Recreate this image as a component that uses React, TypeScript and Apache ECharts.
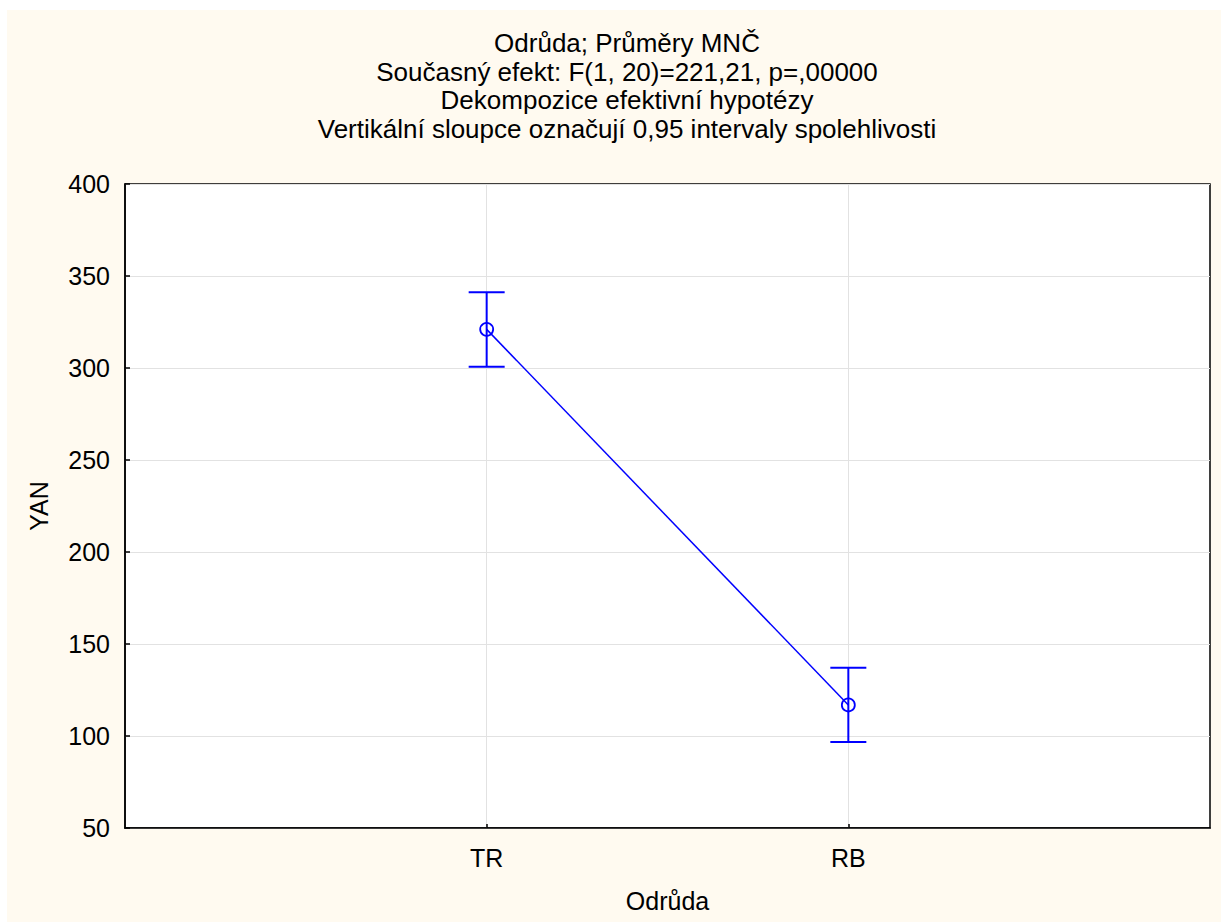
import React, { useEffect, useRef } from "react";
import * as echarts from "echarts";

const categories = ["TR", "RB"];
const means = [321.0, 116.9];
const lowerCI = [300.7, 96.8];
const upperCI = [341.2, 137.1];
const titleLines = [
  "Odrůda; Průměry MNČ",
  "Současný efekt: F(1, 20)=221,21, p=,00000",
  "Dekompozice efektivní hypotézy",
  "Vertikální sloupce označují 0,95 intervaly spolehlivosti",
];

const FONT = "'Liberation Sans', Arial, sans-serif";
const BLUE = "#0000ff";
const FS = 25;

export default function App() {
  const ref = useRef<HTMLDivElement>(null);
  useEffect(() => {
    if (!ref.current) return;
    const chart = echarts.init(ref.current, undefined, { renderer: "svg" });
    const meanData = means.map((m, i) => [i + 1, m]);
    const ciData = means.map((_, i) => [i + 1, lowerCI[i], upperCI[i]]);
    chart.setOption({
      animation: false,
      backgroundColor: "#fffaf0",
      textStyle: { fontFamily: FONT },
      graphic: [
        {
          type: "text",
          x: 620,
          y: 19,
          style: {
            text: titleLines.join("\n"),
            fontSize: 26,
            lineHeight: 28.5,
            fontFamily: FONT,
            fill: "#000",
            align: "center",
            verticalAlign: "top",
          },
        },
      ],
      grid: {
        left: 118,
        top: 174,
        right: 11,
        bottom: 94,
        show: true,
        backgroundColor: "#ffffff",
        borderColor: "#000000",
        borderWidth: 1.5,
      },
      xAxis: {
        type: "value",
        min: 0,
        max: categories.length + 1,
        interval: 1,
        name: "Odrůda",
        nameLocation: "middle",
        nameGap: 60,
        nameTextStyle: { fontSize: FS, color: "#000", fontFamily: FONT },
        axisLine: { lineStyle: { color: "#000", width: 1.5 } },
        axisTick: {
          inside: true,
          length: 4,
          lineStyle: { color: "#000", width: 1.5 },
          customValues: categories.map((_, i) => i + 1),
        },
        axisLabel: {
          fontSize: FS,
          color: "#000",
          margin: 17,
          fontFamily: FONT,
          customValues: categories.map((_, i) => i + 1),
          formatter: (v: number) => categories[v - 1] ?? "",
        },
        splitLine: { show: true, lineStyle: { color: "#e2e2e2", width: 1 } },
      },
      yAxis: {
        type: "value",
        min: 50,
        max: 400,
        interval: 50,
        name: "YAN",
        nameLocation: "middle",
        nameGap: 74,
        nameRotate: 90,
        nameTextStyle: { fontSize: FS, color: "#000", fontFamily: FONT },
        axisLine: { show: true, lineStyle: { color: "#000", width: 1.5 } },
        axisTick: { show: true, inside: true, length: 5, lineStyle: { color: "#000", width: 1.5 } },
        axisLabel: { fontSize: FS, color: "#000", margin: 15, fontFamily: FONT },
        splitLine: { show: true, lineStyle: { color: "#e2e2e2", width: 1 } },
      },
      series: [
        {
          type: "custom",
          data: ciData,
          z: 3,
          renderItem: (params: any, api: any) => {
            const x = api.value(0);
            const lo = api.coord([x, api.value(1)]);
            const hi = api.coord([x, api.value(2)]);
            const hw = 18;
            const style = { stroke: BLUE, lineWidth: 2 };
            return {
              type: "group",
              children: [
                { type: "line", shape: { x1: lo[0], y1: lo[1], x2: hi[0], y2: hi[1] }, style },
                { type: "line", shape: { x1: lo[0] - hw, y1: lo[1], x2: lo[0] + hw, y2: lo[1] }, style },
                { type: "line", shape: { x1: hi[0] - hw, y1: hi[1], x2: hi[0] + hw, y2: hi[1] }, style },
              ],
            };
          },
        },
        {
          type: "line",
          data: meanData,
          z: 4,
          symbol: "circle",
          symbolSize: 13,
          lineStyle: { color: BLUE, width: 1.5 },
          itemStyle: { color: "transparent", borderColor: BLUE, borderWidth: 1.8 },
        },
      ],
    });
    return () => chart.dispose();
  }, []);
  return (
    <div
      ref={ref}
      style={{ position: "fixed", left: 7, top: 10, width: 1214, height: 912 }}
    />
  );
}
